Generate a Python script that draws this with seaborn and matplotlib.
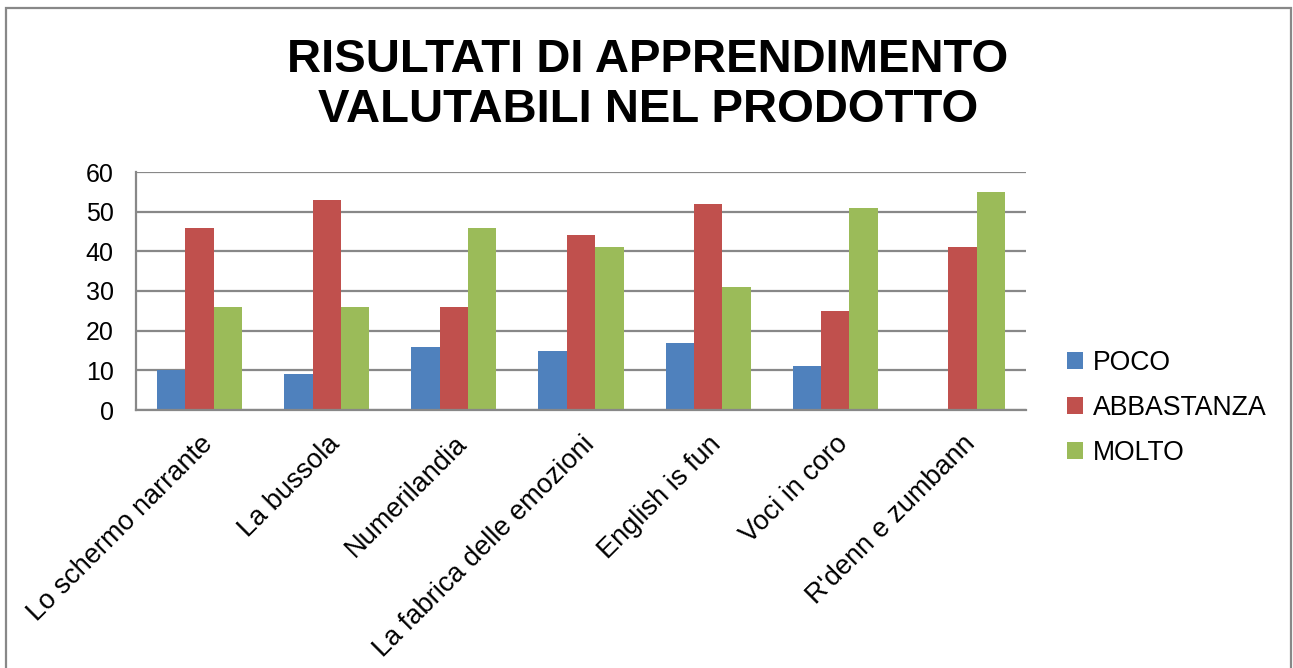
import pandas as pd
import matplotlib.pyplot as plt
import seaborn as sns
from matplotlib.patches import Rectangle

# ----------------------------------------
# Data
# ----------------------------------------
categories = ["Lo schermo narrante", "La bussola", "Numerilandia",
              "La fabrica delle emozioni", "English is fun", "Voci in coro",
              "R'denn e zumbann"]
series = ["POCO", "ABBASTANZA", "MOLTO"]
poco = [10, 9, 16, 15, 17, 11, 0]
abbastanza = [46, 53, 26, 44, 52, 25, 41]
molto = [26, 26, 46, 41, 31, 51, 55]

colors = ["#4F81BD", "#C0504D", "#9BBB59"]

df = pd.DataFrame({
    "progetto": categories * 3,
    "livello": [s for s in series for _ in categories],
    "valore": poco + abbastanza + molto,
})

# ----------------------------------------
# Plot
# ----------------------------------------
sns.set_style("white")
plt.rcParams['font.family'] = ['Liberation Sans', 'DejaVu Sans']
plt.rcParams['text.color'] = 'black'
plt.rcParams['xtick.color'] = 'black'
plt.rcParams['ytick.color'] = 'black'

fig = plt.figure(figsize=(12.93, 6.68), dpi=100)
ax = fig.add_axes([136 / 1293, 1 - 410 / 668, (1026 - 136) / 1293, (410 - 172) / 668])

sns.barplot(data=df, x="progetto", y="valore", hue="livello",
            order=categories, hue_order=series, palette=colors,
            width=0.67, gap=0, linewidth=0, saturation=1, ax=ax)

ax.set_ylim(0, 60)
ax.set_yticks(range(0, 61, 10))
ax.set_xlabel("")
ax.set_ylabel("")
ax.set_axisbelow(True)
ax.yaxis.grid(True, color="#888888", linewidth=1.6)
ax.xaxis.grid(False)
for side in ["top", "right"]:
    ax.spines[side].set_visible(False)
for side in ["left", "bottom"]:
    ax.spines[side].set_color("#888888")
    ax.spines[side].set_linewidth(1.6)

ax.tick_params(axis="y", length=0, pad=16, labelsize=18, labelcolor="black")
ax.tick_params(axis="x", length=0, pad=15, labelsize=19.5, labelcolor="black")
plt.setp(ax.get_xticklabels(), rotation=45, ha="right", va="top",
         rotation_mode="anchor")

leg = ax.legend(title=None, frameon=False, fontsize=19.2,
                loc="center left", bbox_to_anchor=(1056 / 1293, 1 - 408 / 668),
                bbox_transform=fig.transFigure, handlelength=0.62,
                handleheight=0.62, handletextpad=0.35, labelspacing=0.72,
                borderaxespad=0)
for t in leg.get_texts():
    t.set_color("black")

fig.text(648 / 1293, 1 - 85 / 668,
         "RISULTATI DI APPRENDIMENTO\nVALUTABILI NEL PRODOTTO",
         ha="center", va="center", fontsize=34, fontweight="bold",
         linespacing=1.2, color="black")

# outer chart border
fig.patches.append(Rectangle((6 / 1293, -0.01), 1285 / 1293, 1 - 8 / 668 + 0.01,
                             transform=fig.transFigure, fill=False,
                             edgecolor="#888888", linewidth=1.6))

fig.savefig("out.png", dpi=100)
